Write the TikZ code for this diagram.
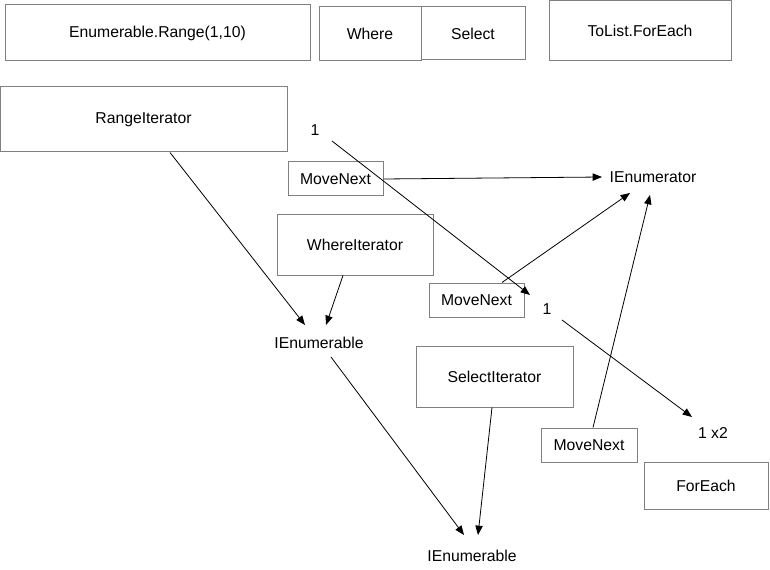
\documentclass[tikz,border=0pt]{standalone}
\usepackage{fontspec}
\setmainfont{Liberation Sans}
\usetikzlibrary{arrows.meta,calc}
\begin{document}
\begin{tikzpicture}[x=0.75pt,y=-0.75pt,
  every node/.style={font=\fontsize{11.8pt}{13.5pt}\selectfont, inner sep=1pt},
  box/.style={draw=black!50, line width=0.75pt, rectangle, inner sep=0pt},
  lbl/.style={inner sep=1pt},
  conn/.style={draw=black, line width=0.6pt, -{Triangle[length=7pt,width=5.5pt]}},
  plain/.style={draw=black, line width=0.6pt}]
\useasboundingbox (0,0) rectangle (770,570);
% top row
\node[box, minimum width=228.75pt, minimum height=42pt] (range) at (157.5,33) {Enumerable.Range(1,10)};
\node[box, minimum width=76.5pt, minimum height=40.5pt] (where) at (370,34) {Where};
\node[box, minimum width=78pt, minimum height=39.75pt] (select) at (473,33.5) {Select};
\node[box, minimum width=136.5pt, minimum height=45pt] (tolist) at (640,30.5) {ToList.ForEach};
% boxes
\node[box, minimum width=215.25pt, minimum height=48.75pt] (rangeit) at (143.5,119.5) {RangeIterator};
\node[box, minimum width=71.25pt, minimum height=25.5pt] (mn1) at (335.5,179) {MoveNext};
\node[box, minimum width=117pt, minimum height=45pt] (whereit) at (355,245) {WhereIterator};
\node[box, minimum width=71.25pt, minimum height=25.5pt] (mn2) at (476.5,300) {MoveNext};
\node[box, minimum width=117.75pt, minimum height=45.75pt] (selectit) at (494.5,376.5) {SelectIterator};
\node[box, minimum width=72pt, minimum height=25.5pt] (mn3) at (589,445) {MoveNext};
\node[box, minimum width=93pt, minimum height=35.25pt] (foreach) at (706,485.5) {ForEach};
% labels
\node[lbl] (one1) at (315,130) {1};
\node[lbl] (one2) at (547,309) {1};
\node[lbl] (x2) at (713,433) {1 x2};
\node[lbl] (ienum1) at (319,343) {IEnumerable};
\node[lbl] (ienum2) at (472,556) {IEnumerable};
\node[lbl] (ienumerator) at (653,177) {IEnumerator};
% connectors
\draw[conn] ($(rangeit.south)+(26.5,0)$) -- ($(ienum1)+(-14,-18)$);
\draw[conn] ($(whereit.south)+(-12,0)$) -- ($(ienum1)+(7,-18)$);
\draw[conn] ($(one1)+(17,11)$) -- ($(one2)+(-17,-14)$);
\draw[conn] (mn1.east) -- ($(ienumerator)+(-51,0)$);
\draw[conn] ($(mn2.north)+(25.5,0)$) -- ($(ienumerator)+(-23,16)$);
\draw[conn] ($(mn3.north)+(4,0)$) -- ($(ienumerator)+(-3,18)$);
\draw[conn] ($(one2)+(15,11)$) -- ($(x2)+(-21,-16)$);
\draw[conn] ($(ienum1)+(12,14)$) -- ($(ienum2)+(-8,-21)$);
\draw[conn] ($(selectit.south)+(-2.5,0)$) -- ($(ienum2)+(6,-21)$);
\end{tikzpicture}
\end{document}
